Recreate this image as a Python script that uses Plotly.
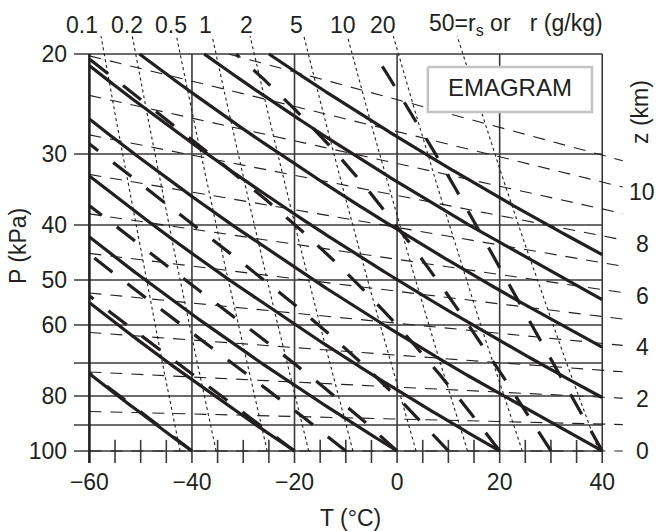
import numpy as np
import plotly.graph_objects as go

# ---------------- chart content ----------------
P_isobars = [20, 30, 40, 50, 60, 70, 80, 90, 100]                 # kPa
P_labelled = [20, 30, 40, 50, 60, 80, 100]
T_isotherms = [-60, -40, -20, 0, 20, 40]                           # degC
T_ticktext = ["\u221260", "\u221240", "\u221220", "0", "20", "40"]
T_minor = [-60, -55, -50, -45, -40, -35, -30, -25, -20, -15, -10, -5,
           0, 5, 10, 15, 20, 25, 30, 35, 40]
theta_dry = [-40, -20, 0, 20, 40, 60, 80, 100, 120]                # degC (potential temp)
theta_w = [-40, -20, -10, 0, 10, 20, 30, 40]                       # degC (wet-bulb pot. temp)
r_gkg = [0.1, 0.2, 0.5, 1, 2, 5, 10, 20, 50]                       # g/kg
r_text = ["0.1", "0.2", "0.5", "1", "2", "5", "10", "20",
          "50=r<sub>s</sub> or\u00a0\u00a0\u00a0r (g/kg)"]
z_km = [0, 1, 2, 3, 4, 5, 6, 7, 8, 9, 10, 11]
z_labelled = [0, 2, 4, 6, 8, 10]

# ---------------- physics constants ----------------
Rd, Cp, Lv, eps, g = 287.04, 1004.0, 2.5e6, 0.622, 9.8
K = 273.15

def es(TK):
    return 0.6113 * np.exp(5423.0 * (1.0 / K - 1.0 / TK))

def rsat(TK, P):
    e = es(TK)
    return eps * e / (P - e)

# ---------------- layout geometry ----------------
W, H = 657, 531
XR = [-63.0, 46.0]
PR = [105.0, 18.0]
ML, MR, MT, MB = 74, 24, 28, 68
TMIN, TMAX, PMIN, PMAX = -60.0, 40.0, 20.0, 100.0

def pxx(px):
    return (px - ML) / (W - ML - MR)

def pxy(py):
    return 1 - (py - MT) / (H - MT - MB)

def papy(P):
    return (np.log10(P) - np.log10(PR[0])) / (np.log10(PR[1]) - np.log10(PR[0]))

INK = "#231f20"
GRID = "#3a3a3a"
fig = go.Figure()

def add_line(T, P, width, dash="solid", color=INK):
    fig.add_trace(go.Scatter(x=list(T), y=list(P), mode="lines",
                             line=dict(color=color, width=width, dash=dash),
                             hoverinfo="skip", showlegend=False))

def clip(T, P, tmax=TMAX + 1e-6, pmin=PMIN - 1e-6):
    T = np.asarray(T); P = np.asarray(P)
    m = (T >= TMIN - 1e-6) & (T <= tmax) & (P >= pmin) & (P <= PMAX + 1e-6)
    return T[m], P[m]

# grid: isobars (extend left as tick marks) and isotherms
for p in P_isobars:
    add_line([XR[0], TMAX], [p, p], 1.6, color=GRID)
for t in T_isotherms:
    add_line([t, t], [PMIN, PR[0]], 2.6 if t == -60 else 1.6,
             color=INK if t == -60 else GRID)
for t in T_minor:
    if t not in T_isotherms:
        add_line([t, t], [95.6, PR[0]], 1.6, color=GRID)

# height contours (thin dashed)
Tz = np.linspace(-60, 44, 600)
for z in z_km:
    lnPL = np.log(100) - g * z * 1000 / (Rd * (K - 60))
    lnPR = np.log(100) - g * z * 1000 / (Rd * (K + 40))
    lnP = lnPL + (Tz + 60) / 100 * (lnPR - lnPL)
    Tc, Pc = clip(Tz, np.exp(lnP), tmax=44.1)
    add_line(Tc, Pc, 1.1, dash="12px,9px")

# mixing-ratio lines (thin dotted)
Pr = np.exp(np.linspace(np.log(100), np.log(18.6), 400))
for r in r_gkg:
    rk = r / 1000.0
    e = rk * Pr / (eps + rk)
    TK = 1.0 / (1.0 / K - np.log(e / 0.6113) / 5423.0)
    add_line(TK - K, Pr, 1.1, dash="3px,3px")

# moist (pseudo) adiabats, integrated upward from 100 kPa
def dTdlnP(TK, P):
    r = rsat(TK, P)
    return (Rd * TK + Lv * r) / (Cp + Lv ** 2 * r * eps / (Rd * TK ** 2))

lnPs = np.linspace(np.log(100), np.log(19.5), 1500)
Tm = np.array(theta_w, dtype=float) + K
track = [Tm.copy()]
for i in range(len(lnPs) - 1):
    h = lnPs[i + 1] - lnPs[i]
    p0, p1 = np.exp(lnPs[i]), np.exp(lnPs[i] + h / 2)
    p2 = np.exp(lnPs[i + 1])
    k1 = dTdlnP(Tm, p0)
    k2 = dTdlnP(Tm + h / 2 * k1, p1)
    k3 = dTdlnP(Tm + h / 2 * k2, p1)
    k4 = dTdlnP(Tm + h * k3, p2)
    Tm = Tm + h / 6 * (k1 + 2 * k2 + 2 * k3 + k4)
    track.append(Tm.copy())
track = np.array(track) - K
Pm = np.exp(lnPs)
for j in range(len(theta_w)):
    Tc, Pc = clip(track[:, j], Pm)
    add_line(Tc, Pc, 3.2, dash="23px,19px")

# dry adiabats (thick solid)
Pd = np.exp(np.linspace(np.log(100), np.log(20), 3000))
for th in theta_dry:
    Td = (th + K) * (Pd / 100.0) ** (Rd / Cp) - K
    Tc, Pc = clip(Td, Pd)
    add_line(Tc, Pc, 3.2)

# EMAGRAM box
bx = [6.0, 38.0, 38.0, 6.0, 6.0]
by = [21.08, 21.08, 25.3, 25.3, 21.08]
fig.add_trace(go.Scatter(x=bx, y=by, mode="lines", fill="toself", fillcolor="white",
                         line=dict(color="#c4c4c4", width=2.6), hoverinfo="skip",
                         showlegend=False))
fig.add_trace(go.Scatter(x=[22.0], y=[23.15], mode="text", text=["EMAGRAM"],
                         textfont=dict(size=24, color=INK,
                                       family="Liberation Sans, Arial, sans-serif"),
                         hoverinfo="skip", showlegend=False))

FONT = dict(family="Liberation Sans, Arial, sans-serif", size=23, color=INK)
ann = []
# mixing ratio labels along the top
r_label_px = [82, 127, 171, 205, 246, 296, 343, 383, 427]
for txt, px in zip(r_text, r_label_px):
    ann.append(dict(x=pxx(px), y=pxy(25), xref="paper", yref="paper", text=txt,
                    showarrow=False, xanchor="left" if "=" in txt else "center",
                    yanchor="middle", font=FONT))
# height labels on the right
for z in z_labelled:
    lnPL = np.log(100) - g * z * 1000 / (Rd * (K - 60))
    lnPR = np.log(100) - g * z * 1000 / (Rd * (K + 40))
    Tl = 47.8
    P_lab = np.exp(lnPL + (Tl + 60) / 100 * (lnPR - lnPL))
    ann.append(dict(x=pxx(642), y=papy(P_lab), xref="paper", yref="paper", text=str(z),
                    showarrow=False, xanchor="center", yanchor="middle", font=FONT))
ann.append(dict(x=pxx(640), y=pxy(112), xref="paper", yref="paper", text="z (km)",
                textangle=-90, showarrow=False, xanchor="center", yanchor="middle", font=FONT))
ann.append(dict(x=pxx(18), y=pxy(246), xref="paper", yref="paper", text="P (kPa)",
                textangle=-90, showarrow=False, xanchor="center", yanchor="middle", font=FONT))
ann.append(dict(x=pxx(350), y=pxy(518), xref="paper", yref="paper", text="T (\u00b0C)",
                showarrow=False, xanchor="center", yanchor="middle", font=FONT))

fig.update_layout(
    width=W, height=H, margin=dict(l=ML, r=MR, t=MT, b=MB),
    paper_bgcolor="white", plot_bgcolor="white",
    font=FONT, showlegend=False, annotations=ann,
    xaxis=dict(range=XR, showgrid=False, zeroline=False, showline=False,
               tickmode="array", tickvals=T_isotherms, ticktext=T_ticktext,
               ticks="", ticklabelstandoff=3, tickfont=FONT),
    yaxis=dict(type="log", range=[np.log10(PR[0]), np.log10(PR[1])], showgrid=False,
               zeroline=False, showline=False, tickmode="array", tickvals=P_labelled,
               ticktext=[str(p) for p in P_labelled], ticks="", ticklabelstandoff=6,
               tickfont=FONT),
)
fig.write_html("out.html", config={"displayModeBar": False},
               post_script="document.body.style.margin='0px';"
                           "document.body.style.overflow='hidden';")
